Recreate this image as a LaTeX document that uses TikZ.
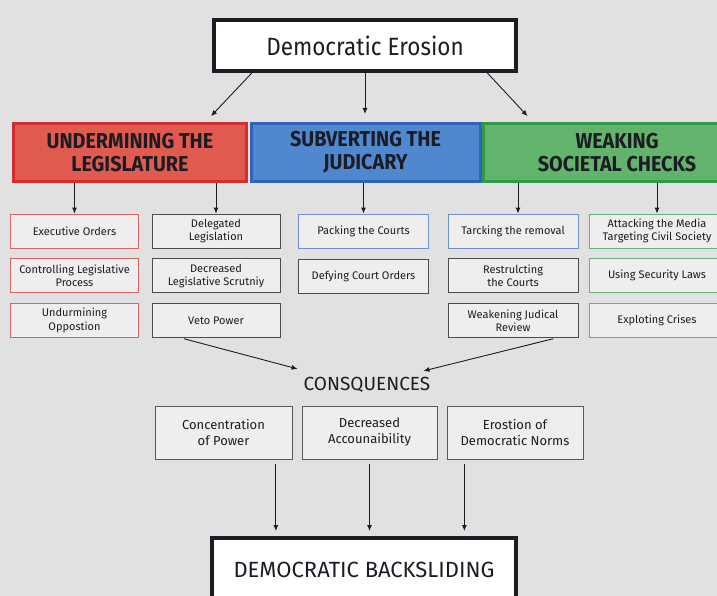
\documentclass[tikz,border=0pt]{standalone}
\usepackage{fontspec}
\setmainfont{Fira Sans}
\newfontfamily\condfont[FakeStretch=0.92]{Fira Sans}
\newfontfamily\narrowfont[FakeStretch=0.90]{Fira Sans}
\usetikzlibrary{positioning,calc,arrows.meta}
% colours
\definecolor{bgcol}{HTML}{E1E1E1}
\definecolor{legisfill}{HTML}{E05A4F}
\definecolor{legisline}{HTML}{D22E2C}
\definecolor{judfill}{HTML}{5088CF}
\definecolor{judline}{HTML}{2F64B7}
\definecolor{socfill}{HTML}{62B36C}
\definecolor{socline}{HTML}{309A46}
\definecolor{txt}{HTML}{1C1C24}
\tikzset{
  arr/.style={-{Latex[length=6pt,width=5pt]}, line width=0.9pt, txt},
  bigbox/.style={draw=txt, line width=4pt, fill=white, align=center, inner sep=0pt},
  catbox/.style={draw=#1line, fill=#1fill, line width=3pt, minimum height=58pt,
    align=center, inner sep=0pt, text=txt,
    font=\condfont\bfseries\fontsize{21.5}{23}\selectfont},
  itembox/.style={draw=#1, line width=0.8pt, fill=white, fill opacity=0.45,
    text opacity=1, minimum width=128pt, minimum height=34pt, align=center,
    inner sep=1pt, text=txt, font=\fontsize{11}{13.5}\selectfont},
  consbox/.style={draw=black!65, line width=0.8pt, fill=white, fill opacity=0.45,
    text opacity=1, minimum height=53pt, align=center, inner sep=1pt, text=txt,
    font=\fontsize{13}{16}\selectfont},
}
\begin{document}
\begin{tikzpicture}[x=1pt,y=-1pt]
\useasboundingbox (0,0) rectangle (717,596);
\clip (0,0) rectangle (717,596);
\fill[bgcol] (0,0) rectangle (717,596);
% top
\node[bigbox, minimum width=302pt, minimum height=51pt,
  font=\narrowfont\fontsize{25}{28}\selectfont, text=txt] (erosion) at (365,45.5) {Democratic Erosion};
% the three branches
\node[catbox=legis, minimum width=233pt] (legis) at (130,152.5) {UNDERMINING THE\\LEGISLATURE};
\node[catbox=jud, minimum width=229pt] (jud) at (365.5,152.5) {SUBVERTING THE\\JUDICARY};
\node[catbox=soc, minimum width=268pt] (soc) at (617,152.5) {WEAKING\\SOCIETAL CHECKS};
\draw[arr, shorten >=8pt] ($(erosion.south west)!0.13!(erosion.south east)$)
  -- ($(legis.north west)!0.82!(legis.north east)$);
\draw[arr, shorten >=8pt] (erosion.south) -- (erosion.south |- jud.north);
\draw[arr, shorten >=8pt] ($(erosion.south west)!0.90!(erosion.south east)$)
  -- ($(soc.north west)!0.19!(soc.north east)$);
% legislature
\node[itembox=legisline!75] (exec) at (74.5,231) {Executive Orders};
\node[itembox=legisline!75, below=10pt of exec] (ctrl) {Controlling Legislative\\Process};
\node[itembox=legisline!75, below=10pt of ctrl] (oppo) {Undurmining\\Oppostion};
\node[itembox=black!70] (deleg) at (216,231) {Delegated\\Legislation};
\node[itembox=black!70, below=10pt of deleg] (scrut) {Decreased\\Legislative Scrutniy};
\node[itembox=black!70, below=10pt of scrut] (veto) {Veto Power};
% judiciary
\node[itembox=judline!70, minimum width=130pt] (pack) at (363.5,231) {Packing the Courts};
\node[itembox=black!70, minimum width=130pt, below=11pt of pack] (defy) {Defying Court Orders};
\node[itembox=judline!70, minimum width=130pt] (tarck) at (513,231) {Tarcking the removal};
\node[itembox=black!70, minimum width=130pt, below=10pt of tarck] (restr) {Restrulcting\\the Courts};
\node[itembox=black!70, minimum width=130pt, below=10pt of restr] (review) {Weakening Judical\\Review};
% society
\node[itembox=socline!75, minimum width=136pt] (media) at (657,231) {Attacking the Media\\Targeting Civil Society};
\node[itembox=socline!75, minimum width=136pt, below=10pt of media] (secur) {Using Security Laws};
\node[itembox=socline!75, minimum width=136pt, below=10pt of secur] (crises) {Exploting Crises};
\draw[arr] (exec.north |- legis.south) -- (exec.north);
\draw[arr] (deleg.north |- legis.south) -- (deleg.north);
\draw[arr] (pack.north |- jud.south) -- (pack.north);
\draw[arr] ([xshift=5pt]tarck.north |- soc.south) -- ([xshift=5pt]tarck.north);
\draw[arr] (media.north |- soc.south) -- (media.north);
% consequences
\node[text=txt, font=\fontsize{19}{22}\selectfont, inner sep=2pt] (conseq) at (367,385) {CONSQUENCES};
\draw[arr, shorten <=3pt, shorten >=1pt] ($(veto.south west)!0.23!(veto.south east)$)
  -- ([xshift=-3pt,yshift=6pt]conseq.north west);
\draw[arr, shorten <=3pt, shorten >=1pt] ($(review.south west)!0.83!(review.south east)$)
  -- ([xshift=-10pt,yshift=4pt]conseq.north east);
\node[consbox, minimum width=137pt] (conc) at (223.5,432.5) {Concentration\\of Power};
\node[consbox, minimum width=135pt] (decr) at (369.5,432.5) {Decreased\\Accounaibility};
\node[consbox, minimum width=136pt] (norms) at (515,432.5) {Erostion of\\Democratic Norms};
% bottom
\node[bigbox, minimum width=304pt, minimum height=64pt,
  font=\fontsize{22}{25}\selectfont, text=txt] (back) at (364,570) {DEMOCRATIC BACKSLIDING};
\coordinate (c1) at ($(conc.south west)!0.88!(conc.south east)$);
\coordinate (c3) at ($(norms.south west)!0.13!(norms.south east)$);
\draw[arr, shorten <=5pt, shorten >=5pt] (c1) -- (c1 |- back.north);
\draw[arr, shorten <=5pt, shorten >=5pt] (decr.south) -- (decr.south |- back.north);
\draw[arr, shorten <=5pt, shorten >=5pt] (c3) -- (c3 |- back.north);
\end{tikzpicture}
\end{document}
